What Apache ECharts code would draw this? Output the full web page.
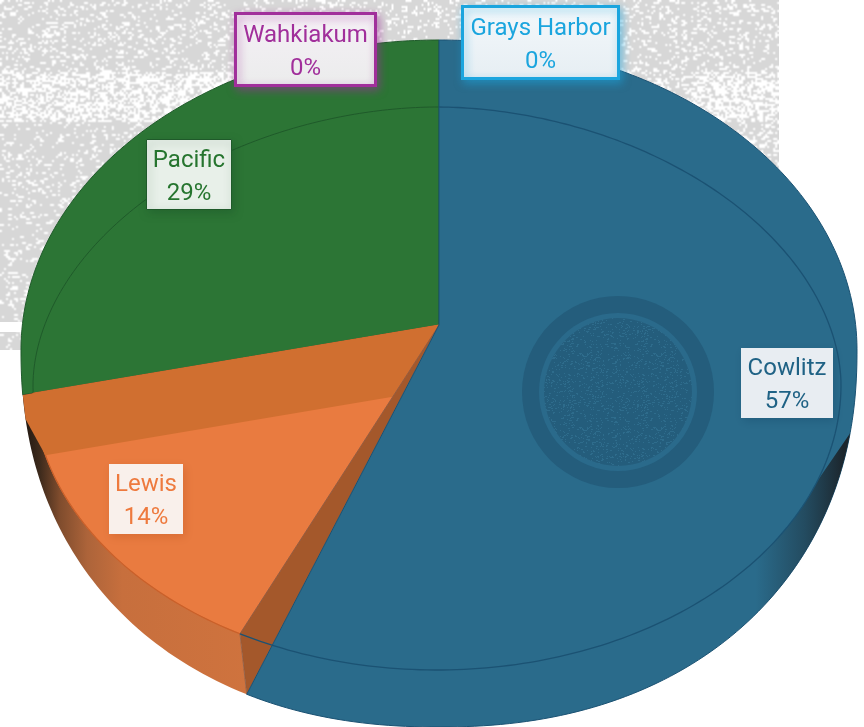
<!DOCTYPE html>
<html>
<head>
<meta charset="utf-8">
<style>html,body{margin:0;padding:0;background:#fff}#chart{width:864px;height:727px}</style>
<script src="https://cdn.jsdelivr.net/npm/echarts@6/dist/echarts.min.js"></script>
</head>
<body>
<div id="chart"></div>
<script>
// ---- data (clockwise from 12 o'clock) ----
const categories = ['Grays Harbor', 'Cowlitz', 'Lewis', 'Pacific', 'Wahkiakum'];
const shares = [0, 57, 14.3, 28.7, 0];
const faceColors = ['#1ba5de', '#2a6b8b', '#e97b40', '#2c7535', '#a12f9b'];
const textColors = ['#1ba5de', '#1f6285', '#ee7a3e', '#26752f', '#a12f9b'];
const lineColors = ['#1ba5de', '#1b5273', '#c9602a', '#1f5a2a', '#a12f9b'];

// ---- layout ----
const FONT = 'Roboto, "Noto Sans", sans-serif';
const labelBoxes = {
  'Grays Harbor': { x: 462.5, y: 6.5, w: 156, h: 72, border: 3, fill: ['#f4f8fb', '#e6eef3'] },
  'Cowlitz': { x: 741, y: 348, w: 92, h: 70, border: 0, fill: ['#e8edf2', '#e8edf2'] },
  'Lewis': { x: 109, y: 464, w: 74, h: 70, border: 0, fill: ['#f9f0eb', '#f9f0eb'] },
  'Pacific': { x: 146.5, y: 139.5, w: 85, h: 70, border: 1, fill: ['#e8f0e9', '#e8f0e9'] },
  'Wahkiakum': { x: 235.5, y: 13.5, w: 140, h: 72, border: 3, fill: ['#f5f0f6', '#ebecec'] }
};
const V = [439, 325];          // apex of the projected pie
const ASPECT = 412 / 333.5;    // projected x/y stretch of a direction from the apex
const WALL_GAP = 2.35;         // angle between a slice edge and the wall behind it
const REAR_EDGE_SHIFT = 1.6;   // perspective shift of the Lewis / Pacific edge
const WALL_DROP = 64;          // height of the rear wall seen through the Lewis face

function superInside(cx, rx, cy, topRy, topP, botRy, botP) {
  return function (x, y) {
    const dy = y - cy, up = dy < 0;
    return Math.pow(Math.abs(x - cx) / rx, up ? topP : botP) +
           Math.pow(Math.abs(dy) / (up ? topRy : botRy), up ? topP : botP) < 1;
  };
}
const insideOuter = superInside(439, 418, 350, 310, 2, 377, 2.2);
const insideInner = superInside(437, 404, 385, 278, 1.9, 285, 2);

function hit(inside, deg) {
  const a = deg * Math.PI / 180;
  const dx = ASPECT * Math.sin(a), dy = -Math.cos(a);
  let lo = 0, hi = 900;
  for (let i = 0; i < 30; i++) {
    const m = (lo + hi) / 2;
    if (inside(V[0] + dx * m, V[1] + dy * m)) lo = m; else hi = m;
  }
  return [V[0] + dx * lo, V[1] + dy * lo];
}
function arc(inside, a0, a1) {
  const pts = [], n = Math.max(2, Math.ceil(Math.abs(a1 - a0)));
  for (let i = 0; i <= n; i++) pts.push(hit(inside, a0 + (a1 - a0) * i / n));
  return pts;
}

const total = shares.reduce((s, v) => s + v, 0);
let run = 0;
const spans = shares.map(v => { const a = run; run += v / total * 360; return [a, run]; });

function poly(points, style, z2) {
  return { type: 'polygon', shape: { points }, style, z2, silent: true };
}
function line(points, stroke, width, z2) {
  return { type: 'polyline', shape: { points }, style: { stroke, lineWidth: width, fill: null }, z2, silent: true };
}
function hGrad(x0, x1, stops) {
  return new echarts.graphic.LinearGradient(0, 0, 1, 0, stops.map(s => ({ offset: (s[0] - x0) / (x1 - x0), color: s[1] })), false);
}

function renderSlice(params, api) {
  const i = api.value(0), v = api.value(1);
  if (!v) return { type: 'group', children: [] };
  const a0 = spans[i][0], a1 = spans[i][1], name = categories[i];
  const color = faceColors[i], edge = lineColors[i], kids = [];

  if (name === 'Cowlitz') {
    const end = a1 - WALL_GAP;
    const outer = arc(insideOuter, a0, end);
    kids.push(poly([V].concat(outer), { fill: color, stroke: edge, lineWidth: 1 }, 40));
    // shaded right-hand wall
    const oWall = arc(insideOuter, 108, 150), iWall = arc(insideInner, 117, 150).reverse();
    kids.push(poly(oWall.concat(iWall), {
      fill: hGrad(700, 850, [[700, 'rgba(30,50,62,0)'], [778, 'rgba(30,50,62,0)'], [815, 'rgba(30,50,62,0.55)'], [845, 'rgba(28,38,45,1)'], [850, 'rgba(28,38,45,1)']])
    }, 42));
    kids.push(line(arc(insideInner, a0, a1 + WALL_GAP), edge, 1.3, 45));
  } else if (name === 'Lewis') {
    const start = a0 + WALL_GAP, stop = a1 + REAR_EDGE_SHIFT;
    const oEdge = hit(insideOuter, a0 - WALL_GAP), iEdge = hit(insideInner, start);
    const wallO = arc(insideOuter, a0 - WALL_GAP, stop), wallI = arc(insideInner, start, stop).reverse();
    kids.push(poly(wallO.concat(wallI), {
      fill: hGrad(25, 250, [[25, '#1e1610'], [42, '#3d2a1c'], [62, '#7f4c2d'], [90, '#ad643a'], [125, '#c76f3d'], [250, '#cf733e']])
    }, 20));
    const faceArc = arc(insideInner, start, stop);
    kids.push(poly([V].concat(faceArc), { fill: color, stroke: '#d96a30', lineWidth: 1 }, 22));
    kids.push(line(faceArc, edge, 1.2, 23));
    // darker band: the rear wall seen through the translucent face
    const g = hit(insideOuter, stop);
    const slope = (g[1] - V[1]) / (g[0] - V[0]);
    const below = p => p[1] > V[1] + WALL_DROP + slope * (p[0] - V[0]);
    let th = stop;
    while (th > start && !below(hit(insideInner, th))) th -= 0.25;
    const r = hit(insideInner, start);
    const rs = (r[1] - V[1]) / (r[0] - V[0]);
    const xr = V[0] + WALL_DROP / (rs - slope);
    const rightPt = [xr, V[1] + rs * (xr - V[0])];
    kids.push(poly([V, hit(insideOuter, stop), hit(insideOuter, stop - 4), hit(insideInner, th), rightPt],
      { fill: '#d06f30' }, 24));
    // side wall of the neighbouring slice
    kids.push(poly([V, iEdge, oEdge], { fill: '#a4582b', stroke: '#8a5a44', lineWidth: 0.8 }, 26));
  } else {
    const from = a0 + REAR_EDGE_SHIFT;
    const outer = arc(insideOuter, from, a1);
    kids.push(poly([V].concat(outer), { fill: color, stroke: edge, lineWidth: 1 }, 10));
    kids.push(line(arc(insideInner, from, a1), edge, 1, 12));
  }
  return { type: 'group', children: kids };
}

function renderLabel(params, api) {
  const i = api.value(0), name = categories[i], b = labelBoxes[name], col = textColors[i];
  const pct = Math.round(api.value(1) / total * 100) + '%';
  const cx = b.x + b.w / 2, cy = b.y + b.h / 2;
  const font = '24px ' + FONT;
  const txt = (s, y) => ({ type: 'text', silent: true, z2: 3, style: { x: cx, y, text: s, fill: col, font, align: 'center', verticalAlign: 'middle' } });
  const c = echarts.color.modifyAlpha(lineColors[i], 0.55);
  return {
    type: 'group', children: [
      { type: 'rect', silent: true, z2: 1, shape: { x: b.x, y: b.y, width: b.w, height: b.h },
        style: { fill: new echarts.graphic.LinearGradient(0, 0, 0, 1, [{ offset: 0, color: b.fill[0] }, { offset: 1, color: b.fill[1] }]),
                 stroke: b.border ? lineColors[i] : null, lineWidth: b.border,
                 shadowBlur: 9, shadowOffsetX: 2, shadowOffsetY: 3, shadowColor: c } },
      txt(name, cy - 14), txt(pct, cy + 19)
    ]
  };
}

// speckled paper texture behind the pie (pure decoration, fixed pattern)
function speckle(w, h, dark, light, density) {
  const c = document.createElement('canvas'); c.width = w; c.height = h;
  const g = c.getContext('2d');
  g.fillStyle = dark; g.fillRect(0, 0, w, h);
  g.fillStyle = light;
  let s = 12345;
  const next = () => (s = (s * 1664525 + 1013904223) >>> 0) / 4294967296;
  for (let y = 0; y < h; y++) for (let x = 0; x < w; x++) {
    if (next() < density(x, y)) g.fillRect(x, y, next() < .3 ? 2 : 1, 1);
  }
  return c;
}
// the paper texture is built at half size and stretched, which softens it
const paper = speckle(390, 175, '#d7d7d7', '#ffffff', (x, y) => {
  if (y >= 36 && y < 61) return (x < 140 || x > 345) ? .5 : .18;
  if (y < 36) return .15;
  if (x > 350 && y < 85) return .22;
  return .12;
});
const grain = speckle(74, 74, '#245d7c', '#2e6c8c', () => .1);

const chart = echarts.init(document.getElementById('chart'), null, { renderer: 'canvas' });
chart.setOption({
  animation: false,
  backgroundColor: '#ffffff',
  graphic: { elements: [
    { type: 'image', z: 0, silent: true, style: { image: paper, x: 0, y: 0, width: 779, height: 350 } },
    { type: 'rect', z: 0, silent: true, shape: { x: 0, y: 322, width: 30, height: 10 }, style: { fill: '#fff' } },
    { type: 'circle', z: 10, silent: true, shape: { cx: 618, cy: 392, r: 96 }, style: { fill: '#245d7c' } },
    { type: 'circle', z: 10, silent: true, shape: { cx: 618, cy: 392, r: 79 }, style: { fill: '#2a6a8b' } },
    { type: 'circle', z: 10, silent: true, shape: { cx: 618, cy: 392, r: 74 }, style: { fill: { image: grain, repeat: 'repeat' } } }
  ] },
  series: [
    { type: 'custom', coordinateSystem: 'none', z: 5, silent: true, renderItem: renderSlice,
      data: categories.map((c, i) => ({ name: c, value: [i, shares[i]] })) },
    { type: 'custom', coordinateSystem: 'none', z: 20, silent: true, renderItem: renderLabel,
      data: categories.map((c, i) => ({ name: c, value: [i, shares[i]] })) }
  ]
});
</script>
</body>
</html>
